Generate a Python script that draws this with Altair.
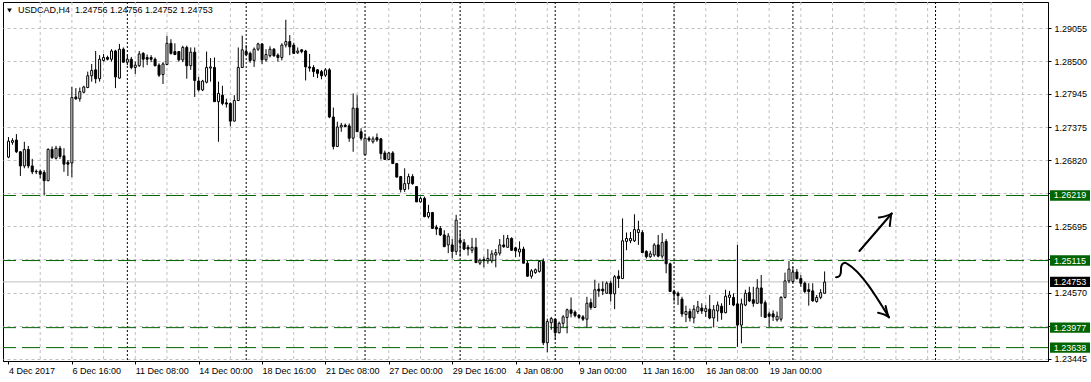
import altair as alt
import pandas as pd

# ---------------- data (USDCAD H4) ----------------
opens = [
    1.2687, 1.2712, 1.2716, 1.2696, 1.2672, 1.2700, 1.2672, 1.2663, 1.2663, 1.2661,
    1.2647, 1.2700, 1.2685, 1.2702, 1.2689, 1.2678, 1.2677, 1.2789, 1.2786, 1.2797,
    1.2805, 1.2825, 1.2835, 1.2820, 1.2851, 1.2856, 1.2853, 1.2867, 1.2821, 1.2870,
    1.2848, 1.2853, 1.2839, 1.2842, 1.2863, 1.2856, 1.2856, 1.2853, 1.2843, 1.2827,
    1.2844, 1.2880, 1.2866, 1.2866, 1.2852, 1.2873, 1.2842, 1.2865, 1.2816, 1.2801,
    1.2814, 1.2838, 1.2839, 1.2781, 1.2792, 1.2779, 1.2778, 1.2748, 1.2783, 1.2839,
    1.2866, 1.2863, 1.2851, 1.2870, 1.2879, 1.2852, 1.2859, 1.2870, 1.2860, 1.2856,
    1.2877, 1.2883, 1.2877, 1.2864, 1.2869, 1.2867, 1.2840, 1.2839, 1.2835, 1.2832,
    1.2826, 1.2835, 1.2755, 1.2705, 1.2738, 1.2741, 1.2740, 1.2719, 1.2770, 1.2730,
    1.2691, 1.2719, 1.2713, 1.2720, 1.2718, 1.2694, 1.2683, 1.2694, 1.2676, 1.2654,
    1.2632, 1.2642, 1.2654, 1.2637, 1.2611, 1.2617, 1.2586, 1.2593, 1.2568, 1.2566,
    1.2555, 1.2538, 1.2538, 1.2527, 1.2546, 1.2542, 1.2534, 1.2529, 1.2534, 1.2507,
    1.2513, 1.2511, 1.2511, 1.2521, 1.2524, 1.2538, 1.2534, 1.2549, 1.2533, 1.2526,
    1.2531, 1.2507, 1.2485, 1.2491, 1.2493, 1.2510, 1.2372, 1.2406, 1.2412, 1.2389,
    1.2405, 1.2415, 1.2428, 1.2424, 1.2419, 1.2416, 1.2412, 1.2440, 1.2432, 1.2463,
    1.2463, 1.2456, 1.2473, 1.2455, 1.2485, 1.2481, 1.2544, 1.2545, 1.2545, 1.2559,
    1.2559, 1.2527, 1.2518, 1.2521, 1.2538, 1.2519, 1.2544, 1.2506, 1.2459, 1.2456,
    1.2446, 1.2420, 1.2425, 1.2414, 1.2425, 1.2431, 1.2425, 1.2429, 1.2414, 1.2426,
    1.2434, 1.2423, 1.2449, 1.2449, 1.2438, 1.2402, 1.2436, 1.2457, 1.2445, 1.2439,
    1.2465, 1.2440, 1.2421, 1.2421, 1.2411, 1.2412, 1.2449, 1.2477, 1.2476, 1.2492,
    1.2481, 1.2473, 1.2462, 1.2460, 1.2442, 1.2449, 1.2456,
]
highs = [
    1.2721, 1.2719, 1.2726, 1.2697, 1.2713, 1.2706, 1.2684, 1.2666, 1.2666, 1.2665,
    1.2702, 1.2705, 1.2706, 1.2706, 1.2702, 1.2682, 1.2806, 1.2804, 1.2805, 1.2808,
    1.2832, 1.2845, 1.2867, 1.2860, 1.2862, 1.2859, 1.2870, 1.2869, 1.2879, 1.2873,
    1.2860, 1.2857, 1.2849, 1.2867, 1.2865, 1.2861, 1.2860, 1.2856, 1.2846, 1.2848,
    1.2893, 1.2887, 1.2880, 1.2867, 1.2876, 1.2876, 1.2873, 1.2873, 1.2823, 1.2818,
    1.2866, 1.2855, 1.2856, 1.2815, 1.2808, 1.2786, 1.2780, 1.2792, 1.2873, 1.2893,
    1.2877, 1.2866, 1.2873, 1.2881, 1.2880, 1.2870, 1.2875, 1.2872, 1.2863, 1.2880,
    1.2920, 1.2894, 1.2881, 1.2873, 1.2870, 1.2869, 1.2862, 1.2843, 1.2836, 1.2835,
    1.2838, 1.2838, 1.2771, 1.2747, 1.2745, 1.2744, 1.2744, 1.2795, 1.2792, 1.2736,
    1.2727, 1.2722, 1.2722, 1.2727, 1.2719, 1.2698, 1.2696, 1.2697, 1.2677, 1.2655,
    1.2668, 1.2659, 1.2658, 1.2638, 1.2620, 1.2620, 1.2606, 1.2594, 1.2572, 1.2570,
    1.2563, 1.2558, 1.2548, 1.2589, 1.2563, 1.2548, 1.2538, 1.2550, 1.2550, 1.2515,
    1.2518, 1.2531, 1.2529, 1.2531, 1.2548, 1.2555, 1.2555, 1.2551, 1.2535, 1.2544,
    1.2535, 1.2511, 1.2497, 1.2498, 1.2512, 1.2515, 1.2413, 1.2416, 1.2413, 1.2408,
    1.2419, 1.2430, 1.2449, 1.2427, 1.2420, 1.2419, 1.2450, 1.2447, 1.2479, 1.2473,
    1.2476, 1.2476, 1.2477, 1.2487, 1.2495, 1.2583, 1.2559, 1.2560, 1.2590, 1.2579,
    1.2563, 1.2529, 1.2528, 1.2541, 1.2555, 1.2558, 1.2548, 1.2508, 1.2462, 1.2459,
    1.2450, 1.2435, 1.2430, 1.2436, 1.2443, 1.2439, 1.2436, 1.2453, 1.2436, 1.2442,
    1.2439, 1.2462, 1.2460, 1.2456, 1.2538, 1.2447, 1.2462, 1.2467, 1.2467, 1.2480,
    1.2487, 1.2444, 1.2425, 1.2427, 1.2425, 1.2451, 1.2491, 1.2511, 1.2501, 1.2497,
    1.2487, 1.2476, 1.2473, 1.2473, 1.2453, 1.2463, 1.2493,
]
lows = [
    1.2685, 1.2708, 1.2694, 1.2655, 1.2668, 1.2668, 1.2658, 1.2658, 1.2651, 1.2622,
    1.2646, 1.2684, 1.2683, 1.2684, 1.2662, 1.2655, 1.2653, 1.2784, 1.2781, 1.2795,
    1.2804, 1.2815, 1.2812, 1.2815, 1.2849, 1.2851, 1.2849, 1.2804, 1.2820, 1.2847,
    1.2843, 1.2836, 1.2828, 1.2840, 1.2839, 1.2843, 1.2848, 1.2841, 1.2823, 1.2811,
    1.2843, 1.2861, 1.2860, 1.2849, 1.2848, 1.2820, 1.2835, 1.2789, 1.2798, 1.2799,
    1.2812, 1.2815, 1.2781, 1.2713, 1.2775, 1.2771, 1.2739, 1.2748, 1.2782, 1.2838,
    1.2858, 1.2847, 1.2840, 1.2867, 1.2845, 1.2849, 1.2856, 1.2857, 1.2849, 1.2851,
    1.2873, 1.2860, 1.2862, 1.2862, 1.2863, 1.2817, 1.2832, 1.2823, 1.2821, 1.2819,
    1.2823, 1.2753, 1.2700, 1.2704, 1.2730, 1.2738, 1.2713, 1.2696, 1.2730, 1.2715,
    1.2691, 1.2713, 1.2710, 1.2713, 1.2683, 1.2682, 1.2682, 1.2676, 1.2653, 1.2627,
    1.2628, 1.2632, 1.2640, 1.2611, 1.2610, 1.2585, 1.2583, 1.2566, 1.2555, 1.2553,
    1.2535, 1.2524, 1.2515, 1.2521, 1.2518, 1.2529, 1.2520, 1.2524, 1.2508, 1.2504,
    1.2500, 1.2506, 1.2507, 1.2500, 1.2520, 1.2533, 1.2533, 1.2528, 1.2517, 1.2518,
    1.2507, 1.2484, 1.2481, 1.2489, 1.2491, 1.2368, 1.2356, 1.2394, 1.2377, 1.2388,
    1.2398, 1.2388, 1.2415, 1.2415, 1.2412, 1.2409, 1.2398, 1.2428, 1.2431, 1.2450,
    1.2453, 1.2455, 1.2442, 1.2429, 1.2465, 1.2480, 1.2529, 1.2541, 1.2543, 1.2538,
    1.2524, 1.2515, 1.2516, 1.2518, 1.2517, 1.2515, 1.2490, 1.2459, 1.2442, 1.2436,
    1.2416, 1.2407, 1.2408, 1.2405, 1.2421, 1.2421, 1.2416, 1.2412, 1.2398, 1.2408,
    1.2411, 1.2422, 1.2436, 1.2434, 1.2365, 1.2371, 1.2434, 1.2441, 1.2433, 1.2438,
    1.2416, 1.2415, 1.2399, 1.2409, 1.2408, 1.2408, 1.2447, 1.2473, 1.2473, 1.2479,
    1.2467, 1.2456, 1.2435, 1.2442, 1.2440, 1.2446, 1.2456,
]
closes = [
    1.2714, 1.2715, 1.2696, 1.2672, 1.2700, 1.2672, 1.2662, 1.2662, 1.2658, 1.2647,
    1.2700, 1.2686, 1.2702, 1.2688, 1.2675, 1.2675, 1.2788, 1.2786, 1.2798, 1.2806,
    1.2825, 1.2834, 1.2820, 1.2853, 1.2856, 1.2853, 1.2867, 1.2823, 1.2870, 1.2848,
    1.2853, 1.2839, 1.2843, 1.2862, 1.2853, 1.2853, 1.2853, 1.2842, 1.2826, 1.2845,
    1.2880, 1.2863, 1.2861, 1.2852, 1.2873, 1.2842, 1.2865, 1.2817, 1.2801, 1.2816,
    1.2839, 1.2840, 1.2781, 1.2795, 1.2778, 1.2777, 1.2748, 1.2783, 1.2839, 1.2869,
    1.2861, 1.2851, 1.2870, 1.2879, 1.2852, 1.2861, 1.2870, 1.2859, 1.2856, 1.2877,
    1.2883, 1.2874, 1.2863, 1.2867, 1.2866, 1.2840, 1.2838, 1.2832, 1.2829, 1.2825,
    1.2835, 1.2755, 1.2705, 1.2738, 1.2741, 1.2739, 1.2719, 1.2770, 1.2730, 1.2719,
    1.2719, 1.2716, 1.2718, 1.2716, 1.2693, 1.2683, 1.2694, 1.2676, 1.2653, 1.2632,
    1.2642, 1.2654, 1.2642, 1.2611, 1.2617, 1.2586, 1.2593, 1.2566, 1.2565, 1.2555,
    1.2535, 1.2553, 1.2527, 1.2580, 1.2542, 1.2531, 1.2531, 1.2534, 1.2508, 1.2512,
    1.2512, 1.2515, 1.2523, 1.2525, 1.2538, 1.2535, 1.2549, 1.2529, 1.2528, 1.2531,
    1.2507, 1.2485, 1.2494, 1.2496, 1.2510, 1.2372, 1.2408, 1.2413, 1.2389, 1.2405,
    1.2416, 1.2428, 1.2422, 1.2418, 1.2415, 1.2412, 1.2439, 1.2432, 1.2462, 1.2460,
    1.2460, 1.2473, 1.2455, 1.2484, 1.2481, 1.2545, 1.2549, 1.2549, 1.2564, 1.2564,
    1.2525, 1.2518, 1.2523, 1.2538, 1.2519, 1.2542, 1.2506, 1.2459, 1.2455, 1.2452,
    1.2421, 1.2425, 1.2414, 1.2429, 1.2433, 1.2426, 1.2430, 1.2414, 1.2428, 1.2436,
    1.2423, 1.2451, 1.2453, 1.2436, 1.2402, 1.2438, 1.2456, 1.2443, 1.2439, 1.2465,
    1.2439, 1.2415, 1.2417, 1.2416, 1.2417, 1.2449, 1.2477, 1.2497, 1.2492, 1.2481,
    1.2473, 1.2459, 1.2459, 1.2443, 1.2449, 1.2457, 1.2475,
]

# time-axis labels (every 16th H4 bar) and grid / week separators (bar indices)
label_bars = [0, 16, 32, 48, 64, 80, 96, 112, 128, 144, 160, 176, 192]
label_texts = ["4 Dec 2017", "6 Dec 16:00", "11 Dec 08:00", "14 Dec 00:00",
               "18 Dec 16:00", "21 Dec 08:00", "27 Dec 00:00", "29 Dec 16:00",
               "4 Jan 08:00", "9 Jan 00:00", "11 Jan 16:00", "16 Jan 08:00",
               "19 Jan 00:00"]
grid_bars = list(range(8, 257, 8))
week_starts = [30, 60, 90, 114, 138, 168, 198, 234]

# price axis
price_grid = [1.29055, 1.28500, 1.27945, 1.27375, 1.26820, 1.26258,
              1.25695, 1.25133, 1.24570, 1.24008, 1.23445]
hidden_grid = [1.26258, 1.25133, 1.24008]
levels = [1.26219, 1.25115, 1.23977, 1.23638]
bid = 1.24753
title_text = "USDCAD,H4\u00a0\u00a01.24756 1.24756 1.24752 1.24753"

# hand-drawn arrows (bar index, price)
arrow_seg = ["up"] * 2 + ["uph"] * 3 + ["dn"] * 8 + ["dnh"] * 3
arrow_bar = [214.8, 222.95,
             219.7, 222.95, 222.45,
             208.9, 209.75, 210.1, 210.15, 210.5, 211.15, 211.75, 222.25,
             219.5, 222.25, 221.4]
arrow_price = [1.25277, 1.25913,
               1.25845, 1.25913, 1.25701,
               1.24831, 1.24853, 1.24909, 1.25001, 1.25057, 1.25079, 1.25057, 1.24152,
               1.24230, 1.24152, 1.24344]

# ---------------- chart ----------------
FONT = "Liberation Sans, Arial, sans-serif"
FS = 9
GREEN = "#006400"
GRID = "#c0c0c0"

candles = pd.DataFrame({"i": list(range(len(opens))), "open": opens, "high": highs,
                        "low": lows, "close": closes})

xs = alt.Scale(domain=[-0.125, 261.125], nice=False, zero=False)
ys = alt.Scale(domain=[1.23411, 1.29501], nice=False, zero=False)

lab_js = "[" + ",".join("'%s'" % t for t in label_texts) + "]"
x_axis = alt.Axis(values=label_bars, labelExpr=lab_js + "[round(datum.value/16)]",
                  grid=False, title=None, tickSize=3, tickColor="black",
                  domainColor="black", labelAlign="left", labelPadding=2,
                  labelFont=FONT, labelFontSize=FS, labelColor="black",
                  labelOverlap=False, labelFlush=False, labelBound=False)
hid_js = "[" + ",".join(str(v) for v in hidden_grid) + "]"
y_axis = alt.Axis(orient="right", values=price_grid,
                  labelExpr="indexof(" + hid_js + ", datum.value) >= 0 ? '' : format(datum.value, '.5f')",
                  grid=True, gridColor=GRID, gridDash=[3, 3], gridWidth=1,
                  title=None, tickSize=3, tickColor="black", domainColor="black",
                  labelPadding=3, labelFont=FONT, labelFontSize=FS, labelColor="black",
                  labelOverlap=False, labelFlush=False, labelBound=False)

X = lambda f: alt.X(f, type="quantitative", scale=xs, axis=x_axis)
Y = lambda f: alt.Y(f, type="quantitative", scale=ys, axis=y_axis)

vgrid = alt.Chart(pd.DataFrame({"g": grid_bars})).mark_rule(
    color=GRID, strokeDash=[3, 3], strokeWidth=1).encode(x=X("g"))

seps = alt.Chart(pd.DataFrame({"w": week_starts})).mark_rule(
    color="black", strokeDash=[2, 2], strokeWidth=1).encode(x=X("w"))

lvl = alt.Chart(pd.DataFrame({"v": levels})).mark_rule(
    color=GREEN, strokeDash=[18, 6], strokeWidth=1).encode(y=Y("v"))

bidline = alt.Chart(pd.DataFrame({"v": [bid]})).mark_rule(
    color=GRID, strokeWidth=1).encode(y=Y("v"))

wicks = alt.Chart(candles).mark_rule(color="black", strokeWidth=1).encode(
    x=X("i"), y=Y("low"), y2="high")

bodies = alt.Chart(candles).mark_bar(size=2, stroke="black", strokeWidth=1).encode(
    x=X("i"), y=Y("open"), y2="close",
    fill=alt.condition("datum.close > datum.open", alt.value("white"), alt.value("black")))

arrows = alt.Chart(pd.DataFrame({"seg": arrow_seg, "b": arrow_bar, "p": arrow_price,
                                 "o": list(range(len(arrow_bar)))})).mark_line(
    color="black", strokeWidth=2, strokeCap="round", strokeJoin="round",
    interpolate="monotone").encode(x=X("b"), y=Y("p"), detail="seg:N", order="o:Q")

lvl_df = pd.DataFrame({"v": levels + [bid],
                       "kind": ["lvl"] * len(levels) + ["bid"]})
boxes = alt.Chart(lvl_df).transform_calculate(
    lo="datum.v - 0.00088", hi="datum.v + 0.00088").mark_rect().encode(
    x=alt.value(1047), x2=alt.value(1087), y=Y("lo:Q"), y2="hi:Q",
    color=alt.Color("kind:N", scale=alt.Scale(domain=["lvl", "bid"], range=[GREEN, "black"]),
                    legend=None))
box_text = alt.Chart(lvl_df).mark_text(
    align="center", baseline="middle", color="white", font=FONT, fontSize=FS).encode(
    x=alt.value(1067), y=Y("v:Q"), text=alt.Text("v:Q", format=".5f"))

title = alt.Chart(pd.DataFrame({"t": [title_text]})).mark_text(
    align="left", baseline="middle", font=FONT, fontSize=FS, color="black").encode(
    x=alt.value(15), y=alt.value(8), text="t:N")
tri = alt.Chart(pd.DataFrame({"t": [1]})).mark_point(
    shape="triangle-down", filled=True, size=22, color="black", opacity=1).encode(
    x=alt.value(6.5), y=alt.value(8.5))

chart = alt.layer(vgrid, seps, lvl, bidline, wicks, bodies, arrows, boxes, box_text,
                  title, tri).properties(
    width=1045, height=359,
    padding={"left": 3, "top": 2, "right": 43, "bottom": 21},
    autosize=alt.AutoSizeParams(type="none"),
    background="white",
).configure_view(stroke="black", strokeWidth=1)

chart.save("out.html", embed_options={"renderer": "svg", "actions": False})
